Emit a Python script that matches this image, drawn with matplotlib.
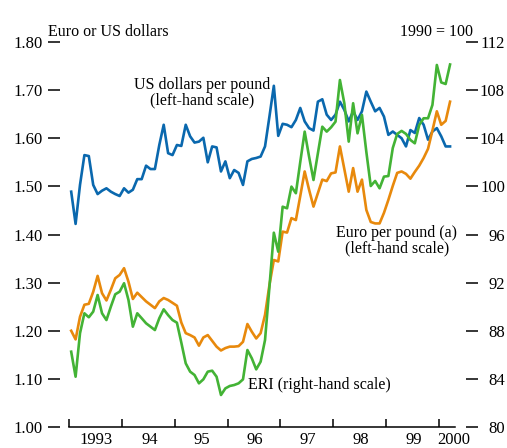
import matplotlib
matplotlib.use("Agg")
import matplotlib.pyplot as plt
import numpy as np
import pandas as pd

# monthly observations, Jan 1993 - Mar 2000
months = pd.period_range("1993-01", "2000-03", freq="M")

usd_per_gbp = [
    1.489, 1.422, 1.503, 1.565, 1.563, 1.503, 1.484, 1.491, 1.496, 1.489,
    1.484, 1.480, 1.496, 1.487, 1.493, 1.515, 1.515, 1.543, 1.536, 1.536,
    1.586, 1.628, 1.569, 1.565, 1.586, 1.584, 1.628, 1.604, 1.591, 1.593,
    1.601, 1.550, 1.583, 1.581, 1.531, 1.552, 1.517, 1.534, 1.528, 1.503,
    1.552, 1.557, 1.559, 1.562, 1.583, 1.645,
    1.709, 1.605, 1.630, 1.628, 1.623, 1.638, 1.663, 1.635, 1.621, 1.616,
    1.676, 1.681, 1.649, 1.638, 1.649, 1.676, 1.659, 1.635, 1.656, 1.638,
    1.656, 1.697, 1.676, 1.656, 1.663, 1.645, 1.607, 1.614, 1.607, 1.600,
    1.583, 1.617, 1.611, 1.642, 1.628, 1.597, 1.614, 1.621, 1.604, 1.583,
    1.583,
]

eur_per_gbp = [
    1.200, 1.182, 1.229, 1.254, 1.256, 1.281, 1.314, 1.278, 1.263, 1.285,
    1.309, 1.316, 1.330, 1.302, 1.266, 1.279, 1.270, 1.261, 1.254, 1.247,
    1.261, 1.268, 1.264,
    1.258, 1.252, 1.217, 1.195, 1.191, 1.186, 1.169, 1.186, 1.191, 1.179,
    1.167, 1.159, 1.164, 1.167, 1.167, 1.168, 1.177,
    1.214, 1.198, 1.184, 1.195, 1.233,
    1.295, 1.347, 1.344, 1.406, 1.404, 1.434, 1.430, 1.480, 1.531, 1.493,
    1.458, 1.486, 1.514, 1.511, 1.527, 1.529, 1.583, 1.536, 1.489, 1.538,
    1.489, 1.514, 1.451, 1.426, 1.423, 1.423, 1.445, 1.472, 1.501, 1.528,
    1.531, 1.526, 1.516, 1.530, 1.543, 1.559, 1.578, 1.616, 1.656, 1.628,
    1.636, 1.676,
]

eri = [
    86.26, 84.18, 87.79, 89.45, 89.12, 89.59, 90.97, 89.45, 88.89, 90.00,
    91.03, 91.25, 91.95, 90.56, 88.34, 89.45, 89.04, 88.62, 88.34, 88.06,
    89.04, 89.78, 89.30,
    88.89, 88.67, 87.01, 85.29, 84.60, 84.32, 83.63, 83.96, 84.60, 84.68,
    84.18, 82.66, 83.21, 83.41, 83.49, 83.63, 83.96, 86.40, 85.71, 84.79,
    85.43, 87.23,
    91.64, 96.15, 94.57, 98.31, 98.18, 99.98, 99.43, 102.03, 104.55, 102.47,
    100.53, 102.75, 104.96, 104.55, 104.91, 105.38, 108.84, 106.91, 103.72, 106.91,
    104.41, 105.94, 102.86, 100.03, 100.45, 99.84, 100.81, 100.86, 103.19, 104.36,
    104.61, 104.36, 103.86, 103.58, 105.10, 105.66, 105.66, 106.77, 110.09, 108.64,
    108.51, 110.13,
]

year_ticks = list(range(1993, 2001))
year_labels = ["1993", "94", "95", "96", "97", "98", "99", "2000"]
label_pos = [1993.52, 1994.52, 1995.52, 1996.52, 1997.52, 1998.52, 1999.53, 2000.27]

plt.rcParams["font.family"] = ["Liberation Serif", "DejaVu Serif"]
plt.rcParams["font.size"] = 12

blue = "#0a68ae"
orange = "#e8890c"
green = "#43b335"

x = months.year + (months.month - 0.5) / 12

fig = plt.figure(figsize=(5.07, 4.48), dpi=100)
ax = fig.add_axes([60 / 507, 21 / 448, 406 / 507, 385 / 448])
ax.plot(x, usd_per_gbp, color=blue, lw=1.9)
ax.plot(x, eur_per_gbp, color=orange, lw=1.9)
ax.set_xlim(1992.83, 2000.51)
ax.set_ylim(1.0, 1.8)
ax.set_yticks(np.arange(1.0, 1.81, 0.1))
ax.set_yticklabels([f"{v:.2f}" for v in np.arange(1.0, 1.81, 0.1)])

for side in ["top", "left", "right"]:
    ax.spines[side].set_visible(False)
ax.spines["bottom"].set_bounds(1993.0, 2000.31)
ax.spines["bottom"].set_linewidth(1.1)

ax.set_xticks(year_ticks)
ax.set_xticklabels([])
ax.set_xticks(label_pos, minor=True)
ax.set_xticklabels(year_labels, minor=True)
ax.tick_params(axis="x", which="major", direction="in", length=5.5, width=1.1)
ax.tick_params(axis="x", which="minor", length=0, pad=3.5)
ax.tick_params(axis="y", direction="out", length=8.6, width=1.1, pad=3.6)

ax2 = ax.twinx()
ax2.plot(x, eri, color=green, lw=1.9)
ax2.set_ylim(80, 112)
ax2.set_yticks(range(80, 113, 4))
for side in ["top", "left", "right", "bottom"]:
    ax2.spines[side].set_visible(False)
ax2.tick_params(axis="y", direction="out", length=8.6, width=1.1, pad=19.4)
for lab in ax2.get_yticklabels():
    lab.set_horizontalalignment("right")

fig.text(48 / 507, (448 - 36) / 448, "Euro or US dollars", ha="left", va="baseline", fontsize=11.5)
fig.text(473 / 507, (448 - 36) / 448, "1990 = 100", ha="right", va="baseline", fontsize=11.5)

ax.text(1995.52, 1.694, "US dollars per pound\n(left-hand scale)", fontsize=11.5,
        ha="center", va="center", multialignment="center", linespacing=0.95)
ax.text(1999.2, 1.387, "Euro per pound (a)\n(left-hand scale)", fontsize=11.5,
        ha="center", va="center", multialignment="center", linespacing=0.95)
ax.text(1997.73, 1.087, "ERI (right-hand scale)", fontsize=11.5, ha="center", va="center")

fig.savefig("out.png", dpi=100)
